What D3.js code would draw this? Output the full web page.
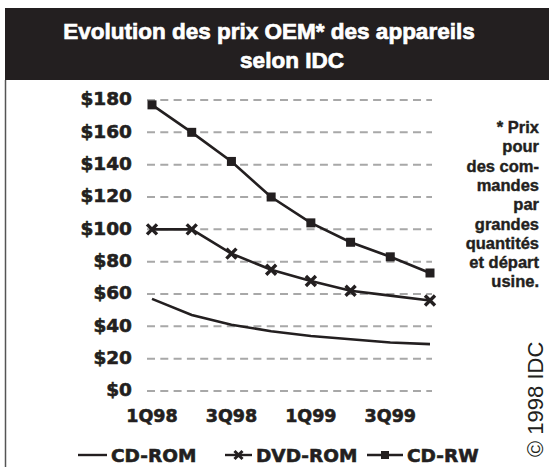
<!DOCTYPE html>
<html>
<head>
<meta charset="utf-8">
<script src="https://cdn.jsdelivr.net/npm/d3@7"></script>
<style>
  body { margin: 0; background: #fff; }
  text { fill: #231f20; }
</style>
</head>
<body>
<script>
const quarters = ['1Q98', '2Q98', '3Q98', '4Q98', '1Q99', '2Q99', '3Q99', '4Q99']
const tickLabels = ['1Q98', '3Q98', '1Q99', '3Q99']
const yTicks = [0, 20, 40, 60, 80, 100, 120, 140, 160, 180]

const cdRom = [57, 47, 41, 37, 34, 32, 30, 29]
const dvdRom = [100, 100, 85, 75, 68, 62, 59, 56]
const cdRw = [177, 160, 142, 120, 104, 92, 83, 73]

const titleLines = ['Evolution des prix OEM* des appareils', 'selon IDC']
const noteLines = ['* Prix', 'pour', 'des com-', 'mandes', 'par', 'grandes', 'quantités', 'et départ', 'usine.']

const width = 549
const height = 467
const ink = '#231f20'
const numFont = '"DejaVu Sans", sans-serif'
const textFont = '"Liberation Sans", Arial, sans-serif'

const svg = d3.select('body').append('svg')
  .attr('width', width)
  .attr('height', height)

const x = d3.scalePoint().domain(quarters).range([152, 430])
const y = d3.scaleLinear().domain([0, 180]).range([391, 100])

// title bar + left frame line
svg.append('rect')
  .attr('x', 5).attr('y', 8)
  .attr('width', width - 5).attr('height', 72)
  .attr('fill', ink)
svg.append('line')
  .attr('x1', 5.5).attr('x2', 5.5)
  .attr('y1', 80).attr('y2', height)
  .attr('stroke', '#555').attr('stroke-width', 1.5)

svg.selectAll('text.title')
  .data(titleLines)
  .enter().append('text')
  .classed('title', true)
  .attr('x', (d, i) => i === 0 ? 269 : 292)
  .attr('y', (d, i) => 39 + i * 29)
  .attr('text-anchor', 'middle')
  .style('fill', '#fff')
  .style('stroke', '#fff')
  .style('stroke-width', 0.7)
  .style('font-family', textFont)
  .style('font-weight', 'bold')
  .style('font-size', '22.5px')
  .text(d => d)

// grid
svg.selectAll('line.grid')
  .data(yTicks)
  .enter().append('line')
  .classed('grid', true)
  .attr('x1', 147).attr('x2', 432)
  .attr('y1', d => y(d)).attr('y2', d => y(d))
  .attr('stroke', '#a8a8a8')
  .attr('stroke-width', 2)
  .attr('stroke-dasharray', '8,5.3')

svg.selectAll('text.ylab')
  .data(yTicks)
  .enter().append('text')
  .classed('ylab', true)
  .attr('x', 132)
  .attr('y', d => y(d))
  .attr('dy', '0.28em')
  .attr('text-anchor', 'end')
  .style('stroke', ink)
  .style('stroke-width', 0.6)
  .style('font-family', numFont)
  .style('font-weight', 'bold')
  .style('font-size', '18.5px')
  .text(d => '$' + d)

svg.selectAll('text.xlab')
  .data(tickLabels)
  .enter().append('text')
  .classed('xlab', true)
  .attr('x', d => x(d))
  .attr('y', 422)
  .attr('text-anchor', 'middle')
  .style('stroke', ink)
  .style('stroke-width', 0.6)
  .style('font-family', numFont)
  .style('font-weight', 'bold')
  .style('font-size', '17.5px')
  .text(d => d)

// lines
const line = d3.line()
  .x((d, i) => x(quarters[i]))
  .y(d => y(d))

const series = [cdRom, dvdRom, cdRw]
svg.selectAll('path.series')
  .data(series)
  .enter().append('path')
  .classed('series', true)
  .attr('d', line)
  .attr('fill', 'none')
  .attr('stroke', ink)
  .attr('stroke-width', 2.6)

const crossPath = 'M-5,-5L5,5M5,-5L-5,5'

// the 3Q99 DVD-ROM point has no marker in the original
svg.selectAll('path.cross')
  .data(dvdRom.map((v, i) => [quarters[i], v]).filter(d => d[0] !== '3Q99'))
  .enter().append('path')
  .classed('cross', true)
  .attr('transform', d => `translate(${x(d[0])},${y(d[1])})`)
  .attr('d', crossPath)
  .attr('stroke', ink)
  .attr('stroke-width', 3.4)

svg.selectAll('rect.square')
  .data(cdRw.map((v, i) => [quarters[i], v]))
  .enter().append('rect')
  .classed('square', true)
  .attr('x', d => x(d[0]) - 4.5)
  .attr('y', d => y(d[1]) - 4.5)
  .attr('width', 9).attr('height', 9)
  .attr('fill', ink)

// note on the right
svg.selectAll('text.note')
  .data(noteLines)
  .enter().append('text')
  .classed('note', true)
  .attr('x', 539)
  .attr('y', (d, i) => 133 + i * 19.3)
  .attr('text-anchor', 'end')
  .style('stroke', ink)
  .style('stroke-width', 0.4)
  .style('font-family', textFont)
  .style('font-weight', 'bold')
  .style('font-size', '16.5px')
  .text(d => d)

svg.append('text')
  .attr('transform', 'translate(543,457) rotate(-90)')
  .style('font-family', textFont)
  .style('font-size', '22px')
  .text('© 1998 IDC')

// legend
const legend = [
  {name: 'CD-ROM', x0: 78, x1: 107, marker: null},
  {name: 'DVD-ROM', x0: 225, x1: 252, marker: 'cross'},
  {name: 'CD-RW', x0: 367, x1: 403, marker: 'square'}
]
const legendY = 455

const lg = svg.selectAll('g.legend')
  .data(legend)
  .enter().append('g')
  .classed('legend', true)

lg.append('line')
  .attr('x1', d => d.x0).attr('x2', d => d.x1)
  .attr('y1', legendY).attr('y2', legendY)
  .attr('stroke', ink).attr('stroke-width', 2.4)

lg.filter(d => d.marker === 'cross').append('path')
  .attr('transform', d => `translate(${(d.x0 + d.x1) / 2},${legendY})`)
  .attr('d', 'M-4,-4L4,4M4,-4L-4,4')
  .attr('stroke', ink).attr('stroke-width', 3)

lg.filter(d => d.marker === 'square').append('rect')
  .attr('x', d => (d.x0 + d.x1) / 2 - 4).attr('y', legendY - 4)
  .attr('width', 8).attr('height', 8)
  .attr('fill', ink)

lg.append('text')
  .attr('x', d => d.x1 + 4)
  .attr('y', legendY + 7)
  .style('stroke', ink)
  .style('stroke-width', 0.6)
  .style('font-family', numFont)
  .style('font-weight', 'bold')
  .style('font-size', '18.5px')
  .text(d => d.name)
</script>
</body>
</html>
